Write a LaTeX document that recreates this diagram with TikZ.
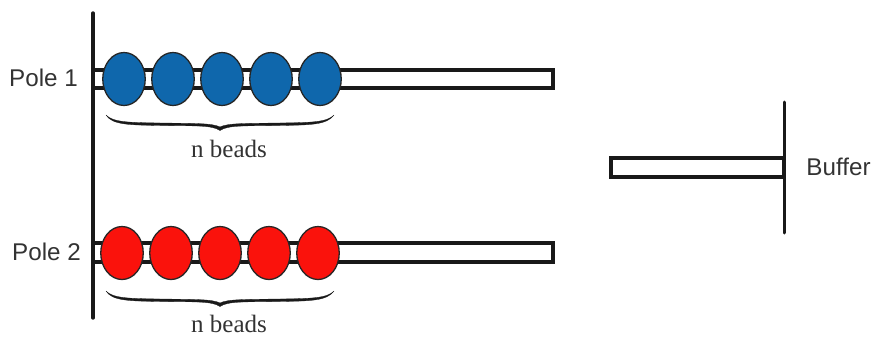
\documentclass[tikz,border=0pt]{standalone}
\usepackage{fontspec}
\setmainfont{Liberation Sans}
\newfontfamily\serifface{Liberation Serif}
\usetikzlibrary{shapes.geometric}
\definecolor{beadblue}{RGB}{15,103,172}
\definecolor{beadred}{RGB}{250,18,12}
\tikzset{
  x=1pt,y=-1pt,
  wall/.style={line width=3.4pt,black!90,line cap=round},
  rod/.style={line width=3.4pt,black!90,fill=white},
  beadb/.style={ellipse,draw=black!85,line width=1.3pt,fill=beadblue,minimum width=42.5pt,minimum height=53pt,inner sep=0pt},
  beadr/.style={ellipse,draw=black!85,line width=1.3pt,fill=beadred,minimum width=42.5pt,minimum height=53pt,inner sep=0pt},
  sanslabel/.style={inner sep=0pt,font=\fontsize{24.2}{26}\selectfont,text=black!80},
  seriflabel/.style={inner sep=0pt,font=\serifface\fontsize{25}{28}\selectfont,text=black!80},
  bracefill/.style={fill=black!90,draw=black!90,line width=0.3pt},
}
\newcommand{\bracepath}[1]{%
  \begin{scope}[yshift=-#1pt]
    \path[bracefill] (106,115) .. controls (112,125) and (130,125) .. (160,125.5)
      .. controls (195,126) and (212,125) .. (220,130.5)
      .. controls (228,125) and (245,126) .. (280,125.5)
      .. controls (310,125) and (327,125) .. (334,115)
      .. controls (327,122.5) and (310,122.5) .. (280,123)
      .. controls (245,123.5) and (228,123) .. (220,127)
      .. controls (212,123) and (195,123.5) .. (160,123)
      .. controls (130,122.5) and (113,122.5) .. (106,115) -- cycle;
  \end{scope}}
\begin{document}
\begin{tikzpicture}
\useasboundingbox (0,0) rectangle (874,337);
% rods
\draw[rod] (93,70) rectangle (553,88);
\draw[rod] (93,243) rectangle (553,262);
\draw[rod] (611,158) rectangle (784,177);
% walls
\coordinate (wa) at (93,13);
\coordinate (wb) at (93,318);
\coordinate (ba) at (784,102);
\coordinate (bb) at (784,233);
\draw[wall] (wa) -- (wb);
\draw[wall,line width=3pt] (ba) -- (bb);
% beads
\foreach \n/\x in {1/124,2/173,3/222,4/271,5/320}
  \node[beadb] (u\n) at (\x,79) {};
\foreach \n/\x in {1/122,2/171,3/220,4/269,5/318}
  \node[beadr] (l\n) at (\x,253) {};
% braces
\bracepath{0}
\bracepath{176}
% labels
\node[sanslabel] (p1) at (43.5,78) {Pole 1};
\node[sanslabel] (p2) at (46.5,252) {Pole 2};
\node[sanslabel] (buf) at (838.5,167) {Buffer};
\node[seriflabel] (n1) at (229,149) {n beads};
\node[seriflabel] (n2) at (229,324) {n beads};
\end{tikzpicture}
\end{document}
